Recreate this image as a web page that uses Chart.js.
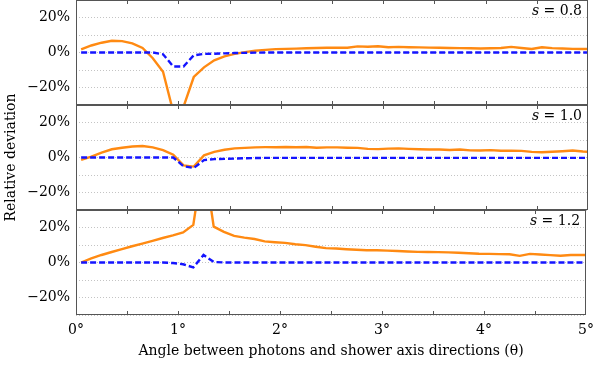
<!DOCTYPE html>
<html>
<head>
<meta charset="utf-8">
<script src="https://cdn.jsdelivr.net/npm/chart.js@4.4.0/dist/chart.umd.min.js"></script>
<style>
  body { margin: 0; background: #fff; }
  #wrap { position: relative; width: 601px; height: 365px; overflow: hidden; }
  #wrap canvas { position: absolute; left: 0; top: -30px; }
</style>
</head>
<body>
<div id="wrap">
  <canvas id="p1" width="601" height="395"></canvas>
  <canvas id="p2" width="601" height="395"></canvas>
  <canvas id="p3" width="601" height="395"></canvas>
</div>
<script>
// angle (deg) of each sample
const angles = [0.05, 0.15, 0.25, 0.35, 0.45, 0.55, 0.65, 0.75, 0.85, 0.95,
  1.05, 1.15, 1.25, 1.35, 1.45, 1.55, 1.65, 1.75, 1.85, 1.95,
  2.05, 2.15, 2.25, 2.35, 2.45, 2.55, 2.65, 2.75, 2.85, 2.95,
  3.05, 3.15, 3.25, 3.35, 3.45, 3.55, 3.65, 3.75, 3.85, 3.95,
  4.05, 4.15, 4.25, 4.35, 4.45, 4.55, 4.65, 4.75, 4.85, 4.95, 5.05];

// relative deviation in %, solid orange curve
const solid08 = [1.8, 4.0, 5.6, 6.7, 6.5, 5.2, 2.6, -3.3, -11, -34,
  -31, -14, -8.5, -4.5, -2.2, -0.8, 0.2, 1.0, 1.5, 1.9,
  2.1, 2.2, 2.4, 2.6, 2.7, 2.8, 2.7, 3.5, 3.3, 3.6,
  3.0, 3.2, 3.0, 2.9, 2.8, 2.7, 2.6, 2.5, 2.4, 2.3,
  2.4, 2.6, 3.2, 2.6, 2.0, 3.0, 2.5, 2.3, 2.1, 2.0, 2.0];
const solid10 = [-1.4, 0.5, 2.8, 4.7, 5.6, 6.3, 6.6, 5.8, 4.2, 1.6,
  -4.5, -5.2, 1.2, 3.2, 4.4, 5.2, 5.5, 5.8, 5.9, 5.9,
  6.0, 5.9, 6.0, 5.6, 5.8, 5.8, 5.6, 5.5, 4.9, 4.8,
  5.1, 5.2, 4.9, 4.7, 4.6, 4.6, 4.3, 4.6, 4.1, 4.0,
  4.2, 3.9, 3.9, 3.8, 3.2, 3.0, 3.3, 3.6, 4.0, 3.4, 3.2];
const solid12 = [0, 2.3, 4.3, 6.0, 7.6, 9.3, 10.8, 12.4, 14.0, 15.5,
  17.2, 21.5, 60, 20.5, 17.5, 15.2, 14.2, 13.4, 12.1, 11.6,
  11.2, 10.4, 9.9, 9.0, 8.2, 8.0, 7.6, 7.3, 7.0, 7.0,
  6.8, 6.6, 6.3, 6.1, 6.0, 5.9, 5.8, 5.6, 5.3, 5.0,
  4.9, 4.8, 4.7, 3.8, 4.9, 4.6, 4.2, 3.9, 4.3, 4.3, 4.3];

// dashed blue curve
const dashed08 = [0, 0, 0, 0, 0, 0, 0, 0, -1, -8,
  -8, -1.6, -0.8, -0.7, -0.5, -0.3, -0.2, -0.1, 0, 0,
  0, 0, 0, 0, 0, 0, 0, 0, 0, 0,
  0, 0, 0, 0, 0, 0, 0, 0, 0, 0,
  0, 0, 0, 0, 0, 0, 0, 0, 0, 0, 0];
const dashed10 = [0, 0, 0, 0, 0, 0, 0, 0, 0, 0,
  -5.0, -6.0, -1.5, -0.9, -0.8, -0.6, -0.4, -0.3, -0.2, -0.2,
  -0.2, -0.2, -0.2, -0.2, -0.2, -0.2, -0.2, -0.2, -0.2, -0.2,
  -0.2, -0.2, -0.2, -0.2, -0.2, -0.2, -0.2, -0.2, -0.2, -0.2,
  -0.2, -0.2, -0.2, -0.2, -0.2, -0.2, -0.2, -0.2, -0.2, -0.2, -0.2];
const dashed12 = [0, 0, 0, 0, 0, 0, 0, 0, 0, -0.3,
  -1.0, -2.8, 4.3, 0.3, 0, 0, 0, 0, 0, 0,
  0, 0, 0, 0, 0, 0, 0, 0, 0, 0,
  0, 0, 0, 0, 0, 0, 0, 0, 0, 0,
  0, 0, 0, 0, 0, 0, 0, 0, 0, 0, 0];

const sValues = ['0.8', '1.0', '1.2'];
const yLabels = {'20': '20%', '0': '0%', '-20': '\u221220%'};
const xMinorTicks = [0.5, 1, 1.5, 2, 2.5, 3, 3.5, 4, 4.5];

const serif = '"DejaVu Serif", "Liberation Serif", serif';
const fontPx = 14;
Chart.defaults.font.family = serif;
Chart.defaults.font.size = fontPx;
Chart.defaults.color = '#000';

const frameColor = '#555';
const shift = 30; // canvases sit 30px above the page top

const panelPlugin = {
  id: 'panel',
  afterDraw(chart, args, opts) {
    const {ctx, chartArea: a, scales} = chart;
    ctx.save();
    ctx.strokeStyle = frameColor;
    ctx.lineWidth = 1;
    // inward ticks, top and bottom
    ctx.beginPath();
    xMinorTicks.forEach(v => {
      const px = Math.round(scales.x.getPixelForValue(v)) + 0.5;
      ctx.moveTo(px, a.top); ctx.lineTo(px, a.top + 4);
      ctx.moveTo(px, a.bottom); ctx.lineTo(px, a.bottom - 4);
    });
    ctx.stroke();
    ctx.strokeRect(Math.round(a.left) + 0.5, Math.round(a.top) + 0.5,
      Math.round(a.right - a.left) - 1, Math.round(a.bottom - a.top) - 1);
    // s = ... label
    const rest = ' = ' + opts.s;
    ctx.fillStyle = '#000';
    ctx.textBaseline = 'alphabetic';
    ctx.font = fontPx + 'px ' + serif;
    const rw = ctx.measureText(rest).width;
    ctx.font = 'italic ' + fontPx + 'px ' + serif;
    const sw = ctx.measureText('s').width;
    const x0 = a.right - 6 - rw - sw;
    const yb = a.top + 15;
    ctx.fillText('s', x0, yb);
    ctx.font = fontPx + 'px ' + serif;
    ctx.fillText(rest, x0 + sw, yb);
    ctx.restore();
  }
};

function makePanel(id, idx, solid, dashed, padTop, padBottom) {
  const last = idx === 2;
  return new Chart(document.getElementById(id), {
    type: 'line',
    data: {
      datasets: [
        {
          data: angles.map((a, i) => ({x: a, y: dashed[i]})),
          borderColor: '#1414ff', borderWidth: 2.4, borderDash: [6, 3],
          pointRadius: 0, fill: false
        },
        {
          data: angles.map((a, i) => ({x: a, y: solid[i]})),
          borderColor: '#ff8a12', borderWidth: 2.4,
          pointRadius: 0, fill: false
        }
      ]
    },
    options: {
      responsive: false,
      animation: false,
      layout: {autoPadding: false,
        padding: {top: padTop + shift, bottom: padBottom, left: 0, right: 13}},
      plugins: {
        legend: {display: false},
        tooltip: {enabled: false},
        panel: {s: sValues[idx]}
      },
      scales: {
        x: {
          type: 'linear', min: 0, max: 5,
          display: last,
          grid: {display: false, drawTicks: false},
          border: {display: false},
          ticks: {stepSize: 1, padding: 7, maxRotation: 0, callback: v => v + '°'},
          title: {
            display: true,
            text: 'Angle between photons and shower axis directions (θ)',
            padding: {top: 0, bottom: 5}
          },
          afterFit: s => { if (last) s.height = 50; }
        },
        y: {
          min: -30, max: 30,
          grid: {color: '#c4c4c4', lineWidth: 1, drawTicks: false},
          border: {display: false, dash: [1, 2]},
          ticks: {stepSize: 10, padding: 6, autoSkip: false,
            callback: v => yLabels[String(v)] || ''},
          title: {
            display: idx === 1,
            text: 'Relative deviation',
            padding: {top: 3, bottom: 0}
          },
          afterFit: s => { s.width = 76; }
        }
      }
    },
    plugins: [panelPlugin]
  });
}

makePanel('p1', 0, solid08, dashed08, 0, 260);
makePanel('p2', 1, solid10, dashed10, 105, 155);
makePanel('p3', 2, solid12, dashed12, 210, 0);
</script>
</body>
</html>
